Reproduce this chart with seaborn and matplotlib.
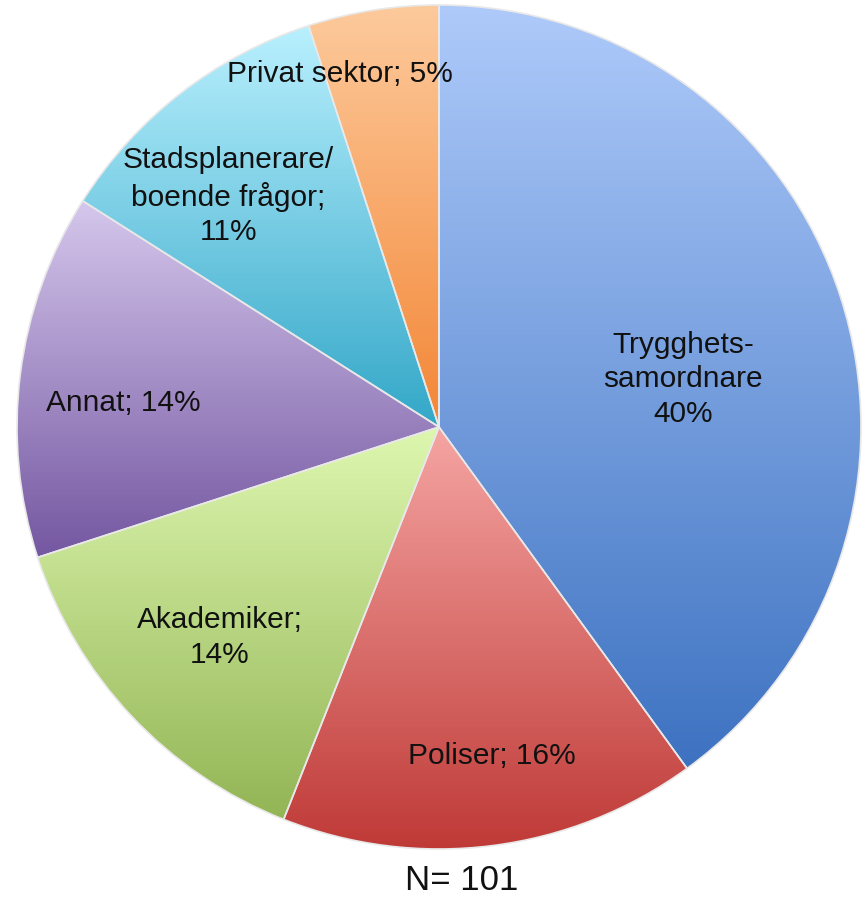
import numpy as np
import matplotlib
matplotlib.use("Agg")
import matplotlib.pyplot as plt
import matplotlib.colors as mcolors
import seaborn as sns

# ---------- data ----------
labels = ["Trygghets-\nsamordnare\n40%", "Poliser; 16%", "Akademiker;\n14%",
          "Annat; 14%", "Stadsplanerare/\nboende frågor;\n11%", "Privat sektor; 5%"]
shares = [40, 16, 14, 14, 11, 5]
n_total = 101

# gradient colours per slice (top -> bottom)
top_colors = ["#aecafa", "#f5a5a3", "#def7b0", "#d5c7ec", "#b9f0fe", "#fdca9c"]
bottom_colors = ["#3d72c1", "#bf3a37", "#93b555", "#7457a1", "#33a7c8", "#f38636"]
# label placement: (distance from centre, angle nudge in degrees)
label_pos = [(0.59, -7), (0.79, 2), (0.72, 0.6), (0.75, 2.8), (0.74, 4.6), (0.87, 6.7)]

sns.set_theme(style="white")
plt.rcParams["font.family"] = ["Liberation Sans", "DejaVu Sans"]

fig = plt.figure(figsize=(8.64, 9.01), dpi=100)
R_px, cx, cy = 422, 439, 427
ax = fig.add_axes([(cx - R_px) / 864, (901 - cy - R_px) / 901, 2 * R_px / 864, 2 * R_px / 901])

wedges, _ = ax.pie(shares, startangle=90, counterclock=False, radius=1,
                   wedgeprops=dict(facecolor="none", edgecolor="#e8e8e8", linewidth=1.2))

for w, c0, c1 in zip(wedges, top_colors, bottom_colors):
    t1, t2 = np.deg2rad(w.theta1), np.deg2rad(w.theta2)
    ts = np.linspace(t1, t2, 200)
    xs = np.concatenate([[0], np.cos(ts)])
    ys = np.concatenate([[0], np.sin(ts)])
    cmap = mcolors.LinearSegmentedColormap.from_list("g", [c1, c0])
    grad = np.linspace(0, 1, 256).reshape(-1, 1)
    im = ax.imshow(grad, cmap=cmap, origin="lower", aspect="auto",
                   extent=[xs.min(), xs.max(), ys.min(), ys.max()], zorder=0.5)
    im.set_clip_path(w)

for w, lab, (dist, nudge) in zip(wedges, labels, label_pos):
    ang = np.deg2rad((w.theta1 + w.theta2) / 2 + nudge)
    ax.text(dist * np.cos(ang), dist * np.sin(ang), lab, ha="center", va="center",
            fontsize=21.5, color="#111111", linespacing=1.3, zorder=3)

ax.set_xlim(-1, 1)
ax.set_ylim(-1, 1)
ax.set_aspect("equal")
ax.axis("off")

fig.text(462 / 864, 1 - 880 / 901, f"N= {n_total}", ha="center", va="center",
         fontsize=25, color="#111111")

fig.savefig("out.png", dpi=100, facecolor="white")
